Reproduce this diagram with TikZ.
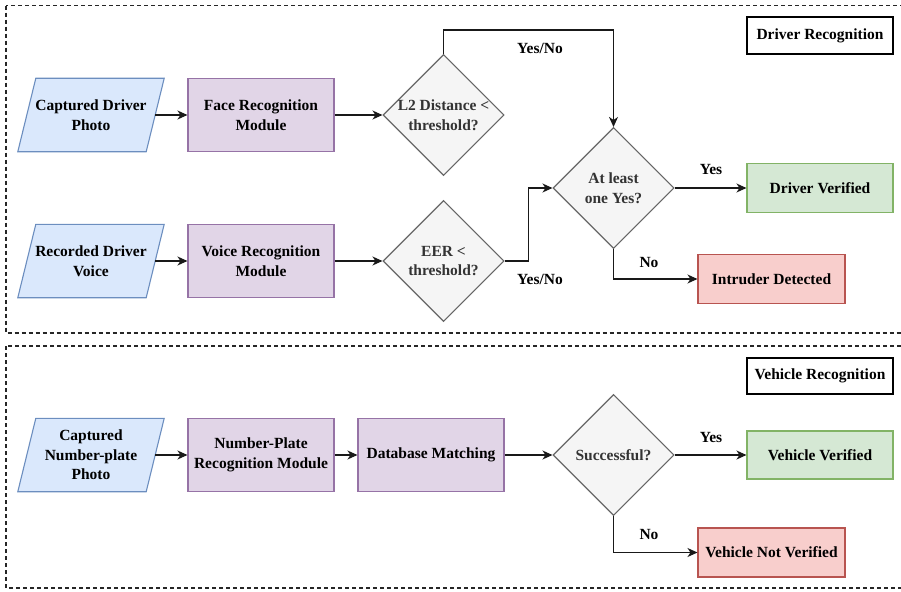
\documentclass[tikz,border=0pt]{standalone}
\usepackage{fontspec}
\setmainfont{Liberation Serif}
\newfontfamily\diagfont{Liberation Serif}
\usetikzlibrary{shapes.geometric,arrows.meta,backgrounds}

\definecolor{inFill}{HTML}{DAE8FC}
\definecolor{inLine}{HTML}{6C8EBF}
\definecolor{modFill}{HTML}{E1D5E7}
\definecolor{modLine}{HTML}{9673A6}
\definecolor{decFill}{HTML}{F5F5F5}
\definecolor{decLine}{HTML}{666666}
\definecolor{decText}{HTML}{333333}
\definecolor{okFill}{HTML}{D5E8D4}
\definecolor{okLine}{HTML}{82B366}
\definecolor{badFill}{HTML}{F8CECC}
\definecolor{badLine}{HTML}{B85450}

\tikzset{
  base/.style={font=\diagfont\fontsize{15.5}{19.5}\selectfont\bfseries, align=center, inner sep=0pt},
  inputtext/.style={base, minimum width=128pt, minimum height=73pt},
  inshape/.style={draw=inLine, fill=inFill, line width=1.1pt},
  module/.style={base, draw=modLine, fill=modFill, line width=1.1pt, minimum width=146pt, minimum height=73pt},
  decision/.style={diamond, aspect=1, draw=decLine, fill=decFill, line width=1.1pt, minimum width=121pt, minimum height=121pt, inner sep=0pt},
  dectext/.style={base, text=decText},
  okbox/.style={base, draw=okLine, fill=okFill, line width=1.1pt, minimum width=146pt, minimum height=49pt},
  badbox/.style={base, draw=badLine, fill=badFill, line width=1.1pt, minimum width=147pt, minimum height=49pt},
  titlebox/.style={base, draw=black, fill=white, line width=1.1pt, minimum width=146pt, minimum height=37pt},
  lbl/.style={base},
  arr/.style={draw=black!90, line width=1.2pt, -{Stealth[length=10pt,width=9pt,inset=3pt]}},
  frame/.style={draw=black!85, line width=1.1pt, dash pattern=on 4pt off 3pt},
}

\begin{document}
\begin{tikzpicture}[x=1pt,y=-1pt]
\useasboundingbox (0,0) rectangle (901,591);
\clip (0,0) rectangle (901,591);

% section frames
\draw[frame] (6,5.7) rectangle (915,333);
\draw[frame] (6,346) rectangle (915,588);

% ---- driver recognition ----
\node[titlebox] (t1) at (820,35.5) {Driver Recognition};

\node[inputtext] (p1) at (91,115) {Captured Driver\\Photo};
\node[module] (m1) at (261,115) {Face Recognition\\Module};
\node[decision] (d1) at (443.5,115) {};
\node[dectext] (d1t) at (d1) {L2 Distance <\\threshold?};

\node[inputtext] (p2) at (91,261) {Recorded Driver\\Voice};
\node[module] (m2) at (261,261) {Voice Recognition\\Module};
\node[decision] (d2) at (443.5,261) {};
\node[dectext] (d2t) at (d2) {EER <\\threshold?};

\node[decision] (d3) at (613.5,188) {};
\node[dectext] (d3t) at (d3) {At least\\one Yes?};

\node[okbox] (v1) at (820,188) {Driver Verified};
\node[badbox] (r1) at (771.5,279) {Intruder Detected};

\draw[arr] (p1.east) -- (m1.west);
\draw[arr] (m1.east) -- (d1.west);
\draw[arr] (p2.east) -- (m2.west);
\draw[arr] (m2.east) -- (d2.west);
\draw[arr] (d1.north) -- ++(0,-24) -| (d3.north);
\draw[arr] (d2.east) -- ++(24,0) |- (d3.west);
\draw[arr] (d3.east) -- (v1.west);
\draw[arr] (d3.south) |- (r1.west);

\node[lbl] (l1) at (540,48) {Yes/No};
\node[lbl] (l2) at (540,279) {Yes/No};
\node[lbl] (l3) at (711,170) {Yes};
\node[lbl] (l4) at (649,262) {No};

% ---- vehicle recognition ----
\node[titlebox, minimum height=36pt] (t2) at (820,376) {Vehicle Recognition};

\node[inputtext] (p3) at (91,455) {Captured\\Number-plate\\Photo};
\node[module] (m3) at (261,455) {Number-Plate\\Recognition Module};
\node[module] (m4) at (431,455) {Database Matching};
\node[decision] (d4) at (613.5,455) {};
\node[dectext] (d4t) at (d4) {Successful?};

\node[okbox, minimum height=48pt] (v2) at (820,455) {Vehicle Verified};
\node[badbox] (r2) at (771.5,552.5) {Vehicle Not Verified};

\draw[arr] (p3.east) -- (m3.west);
\draw[arr] (m3.east) -- (m4.west);
\draw[arr] (m4.east) -- (d4.west);
\draw[arr] (d4.east) -- (v2.west);
\draw[arr] (d4.south) |- (r2.west);

\node[lbl] (l5) at (711,437) {Yes};
\node[lbl] (l6) at (649,534) {No};

% slanted input shapes behind their texts
\begin{scope}[on background layer]
  \foreach \p in {p1,p2,p3}{
    \draw[inshape] ([xshift=9pt]\p.north west) -- ([xshift=9pt]\p.north east)
      -- ([xshift=-9pt]\p.south east) -- ([xshift=-9pt]\p.south west) -- cycle;
  }
\end{scope}
\end{tikzpicture}
\end{document}
